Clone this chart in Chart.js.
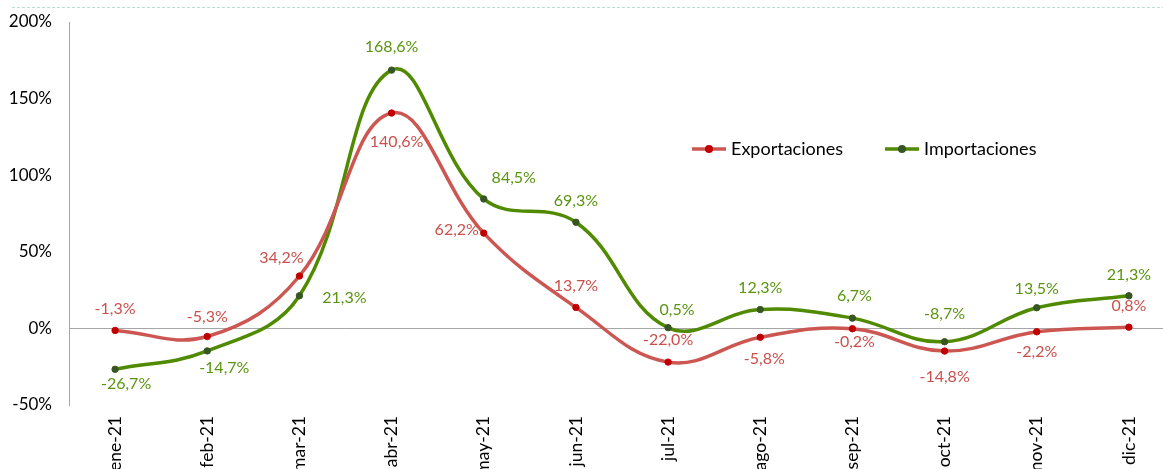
<!DOCTYPE html>
<html>
<head>
<meta charset="utf-8">
<script src="https://cdn.jsdelivr.net/npm/chart.js@4/dist/chart.umd.min.js"></script>
<style>
  html, body { margin: 0; padding: 0; background: #fff; overflow: hidden; }
  #wrap { width: 1180px; height: 469px; position: relative; }
</style>
</head>
<body>
<div id="wrap"><canvas id="trade"></canvas></div>
<script>
const months = ['ene-21', 'feb-21', 'mar-21', 'abr-21', 'may-21', 'jun-21', 'jul-21', 'ago-21', 'sep-21', 'oct-21', 'nov-21', 'dic-21'];
const exportaciones = [-1.3, -5.3, 34.2, 140.6, 62.2, 13.7, -22.0, -5.8, -0.2, -14.8, -2.2, 0.8];
const importaciones = [-26.7, -14.7, 21.3, 168.6, 84.5, 69.3, 0.5, 12.3, 6.7, -8.7, 13.5, 21.3];
const yTicks = [-50, 0, 50, 100, 150, 200];

// where each value label sits relative to its point (dx, dy)
const expLabelPos = [[0,-22],[0,-20],[-18,-18],[5,29],[-27,-3],[0,-22],[0,-22],[4,22],[2,13],[0,26],[0,20],[0,-21]];
const impLabelPos = [[11,15],[17,17],[45,2],[0,-23],[30,-21],[0,-21],[9,-18],[0,-22],[2,-22],[0,-28],[0,-19],[0,-21]];

const fmt = v => v.toFixed(1).replace('.', ',') + '%';
const FONT = 'Lato, "Open Sans", sans-serif';

const valueLabels = {
  id: 'valueLabels',
  afterDatasetsDraw(chart) {
    const ctx = chart.ctx;
    ctx.save();
    ctx.font = '16px ' + FONT;
    ctx.textAlign = 'center';
    ctx.textBaseline = 'middle';
    chart.data.datasets.forEach((ds, di) => {
      const meta = chart.getDatasetMeta(di);
      const pos = di === 0 ? expLabelPos : impLabelPos;
      ctx.fillStyle = ds.labelColor;
      meta.data.forEach((pt, i) => {
        ctx.fillText(fmt(ds.data[i]), pt.x + pos[i][0], pt.y + pos[i][1]);
      });
    });
    ctx.restore();
  }
};

const legendAndFrame = {
  id: 'legendAndFrame',
  beforeDraw(chart) {
    const ctx = chart.ctx;
    ctx.save();
    ctx.strokeStyle = '#b8e0d2';
    ctx.lineWidth = 1;
    ctx.setLineDash([3, 2]);
    ctx.beginPath();
    ctx.moveTo(12, 7.5);
    ctx.lineTo(1170, 7.5);
    ctx.stroke();
    ctx.restore();
  },
  afterDraw(chart) {
    const ctx = chart.ctx;
    const items = [[692, 0], [885, 1]];
    ctx.save();
    ctx.font = '18px ' + FONT;
    ctx.textBaseline = 'middle';
    items.forEach(([x, di]) => {
      const ds = chart.data.datasets[di];
      const y = 149;
      ctx.strokeStyle = ds.borderColor;
      ctx.lineWidth = 3.5;
      ctx.beginPath();
      ctx.moveTo(x, y);
      ctx.lineTo(x + 34, y);
      ctx.stroke();
      ctx.fillStyle = ds.pointBackgroundColor;
      ctx.beginPath();
      ctx.arc(x + 17, y, 4, 0, Math.PI * 2);
      ctx.fill();
      ctx.fillStyle = '#000';
      ctx.fillText(ds.label, x + 39, y);
    });
    ctx.restore();
  }
};

new Chart(document.getElementById('trade'), {
  type: 'line',
  data: {
    labels: months,
    datasets: [
      {
        label: 'Exportaciones',
        data: exportaciones,
        borderColor: '#cc5752',
        pointBackgroundColor: '#c00000',
        pointBorderColor: '#c00000',
        labelColor: '#c9504c',
        borderWidth: 3.5,
        pointRadius: 3.2,
        pointBorderWidth: 1,
        tension: 0.4
      },
      {
        label: 'Importaciones',
        data: importaciones,
        borderColor: '#4f8a00',
        pointBackgroundColor: '#375623',
        pointBorderColor: '#375623',
        labelColor: '#5a9410',
        borderWidth: 3.5,
        pointRadius: 3.2,
        pointBorderWidth: 1,
        tension: 0.4
      }
    ]
  },
  options: {
    responsive: true,
    maintainAspectRatio: false,
    animation: false,
    layout: { padding: { top: 22, left: 0, right: 4, bottom: 0 } },
    plugins: {
      legend: { display: false },
      tooltip: { enabled: false }
    },
    scales: {
      x: {
        offset: true,
        grid: { display: false },
        border: { display: false },
        ticks: {
          color: '#000',
          font: { family: FONT, size: 17.5 },
          maxRotation: 90,
          minRotation: 90,
          padding: 3
        },
        afterFit(scale) {
          scale.height = 64;
          scale.paddingTop = 0;
          scale.paddingBottom = 0;
        }
      },
      y: {
        min: -50,
        max: 200,
        afterBuildTicks(scale) { scale.ticks = yTicks.map(v => ({ value: v })); },
        grid: {
          drawTicks: false,
          color: c => (c.tick && c.tick.value === 0 ? '#a6a6a6' : 'transparent'),
          lineWidth: 1
        },
        border: { display: true, color: '#a6a6a6', width: 1 },
        ticks: {
          color: '#000',
          font: { family: FONT, size: 17 },
          padding: 17,
          callback: v => v + '%'
        },
        afterFit(scale) {
          scale.width = 69;
          scale.paddingTop = 0;
          scale.paddingBottom = 0;
        }
      }
    }
  },
  plugins: [valueLabels, legendAndFrame]
});
</script>
</body>
</html>
